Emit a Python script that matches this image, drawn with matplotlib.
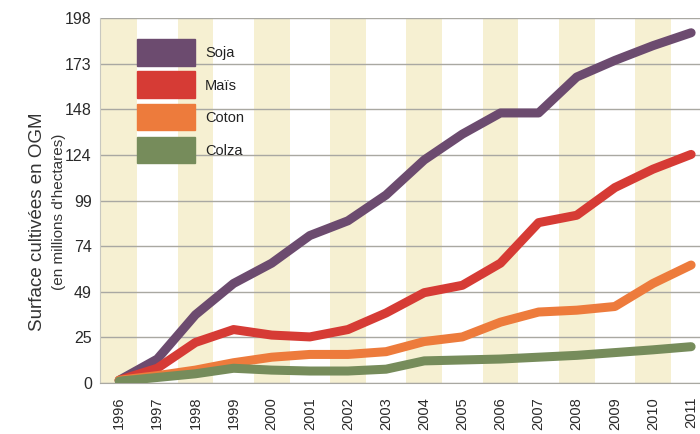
import matplotlib
matplotlib.use("Agg")
import matplotlib.pyplot as plt
import numpy as np
from matplotlib.patches import Rectangle

years = list(range(1996, 2012))
soja = [1.5, 13, 37, 54, 65, 80, 88, 102, 121, 135, 146.5, 146.5, 166, 175, 183, 190]
mais = [1.5, 8, 22, 29, 26, 25, 29, 38, 49, 53, 65, 87, 91, 106, 116, 124]
coton = [1.5, 4, 7, 11, 14, 15.5, 15.5, 17, 22.5, 25, 33, 38.5, 39.5, 41.5, 54, 64]
colza = [1, 3, 5, 8, 7, 6.5, 6.5, 7.5, 12, 12.5, 13, 14, 15, 16.5, 18, 19.7]
series_names = ["Soja", "Maïs", "Coton", "Colza"]
colors = ["#6c4b6f", "#d63b35", "#ed7b3c", "#768c5b"]
ytick_vals = list(np.linspace(0, 198, 9))
ytick_labels = ["0", "25", "49", "74", "99", "124", "148", "173", "198"]

plt.rcParams['font.family'] = ["Liberation Sans", "DejaVu Sans"]

fig = plt.figure(figsize=(7.0, 4.34), dpi=100)
ax = fig.add_axes([0.143, 0.1175, 0.877, 0.841])

ax.set_xlim(1995.5, 2011.6)
ax.set_ylim(0, 198)

# stripes
for y in years:
    if y % 2 == 0:
        ax.axvspan(y - 0.47, y + 0.47, color="#f6f0d2", zorder=0, lw=0)

for v in ytick_vals:
    ax.axhline(v, color="#a9a8a2", lw=1.0, zorder=1)

data = [soja, mais, coton, colza]
for vals, c in zip(data, colors):
    ax.plot(years, vals, color=c, lw=6.5, solid_joinstyle="round",
            solid_capstyle="round", zorder=3)

ax.set_yticks(ytick_vals)
ax.set_yticklabels(ytick_labels, fontsize=11.5, color="#2a2a2a")
ax.set_xticks(years)
ax.set_xticklabels([str(y) for y in years], rotation=90, fontsize=10.5,
                   color="#2a2a2a", va="top")
ax.tick_params(axis="both", length=0)
ax.tick_params(axis="x", pad=10)
ax.tick_params(axis="y", pad=6)

for s in ["top", "right"]:
    ax.spines[s].set_visible(False)
ax.spines["left"].set_color("#c8c8c0")
ax.spines["bottom"].set_color("#a9a8a2")

# legend boxes
box_y = [(39, 66), (71, 98), (104, 130), (137, 163)]
for (y0, y1), c, name in zip(box_y, colors, series_names):
    fy0 = 1 - y1 / 434
    fh = (y1 - y0) / 434
    fig.patches.append(Rectangle((137 / 700, fy0), 58 / 700, fh,
                                 transform=fig.transFigure, color=c, zorder=5))
    fig.text(205 / 700, 1 - ((y0 + y1) / 2 + 1) / 434, name, fontsize=10.5,
             color="#222222", va="center", ha="left")

fig.text(38 / 700, 1 - 222 / 434, "Surface cultivées en OGM", rotation=90,
         fontsize=13.5, color="#333333", va="center", ha="center")
fig.text(59 / 700, 1 - 212 / 434, "(en millions d'hectares)", rotation=90,
         fontsize=11, color="#333333", va="center", ha="center")

fig.savefig("out.png", dpi=100)
